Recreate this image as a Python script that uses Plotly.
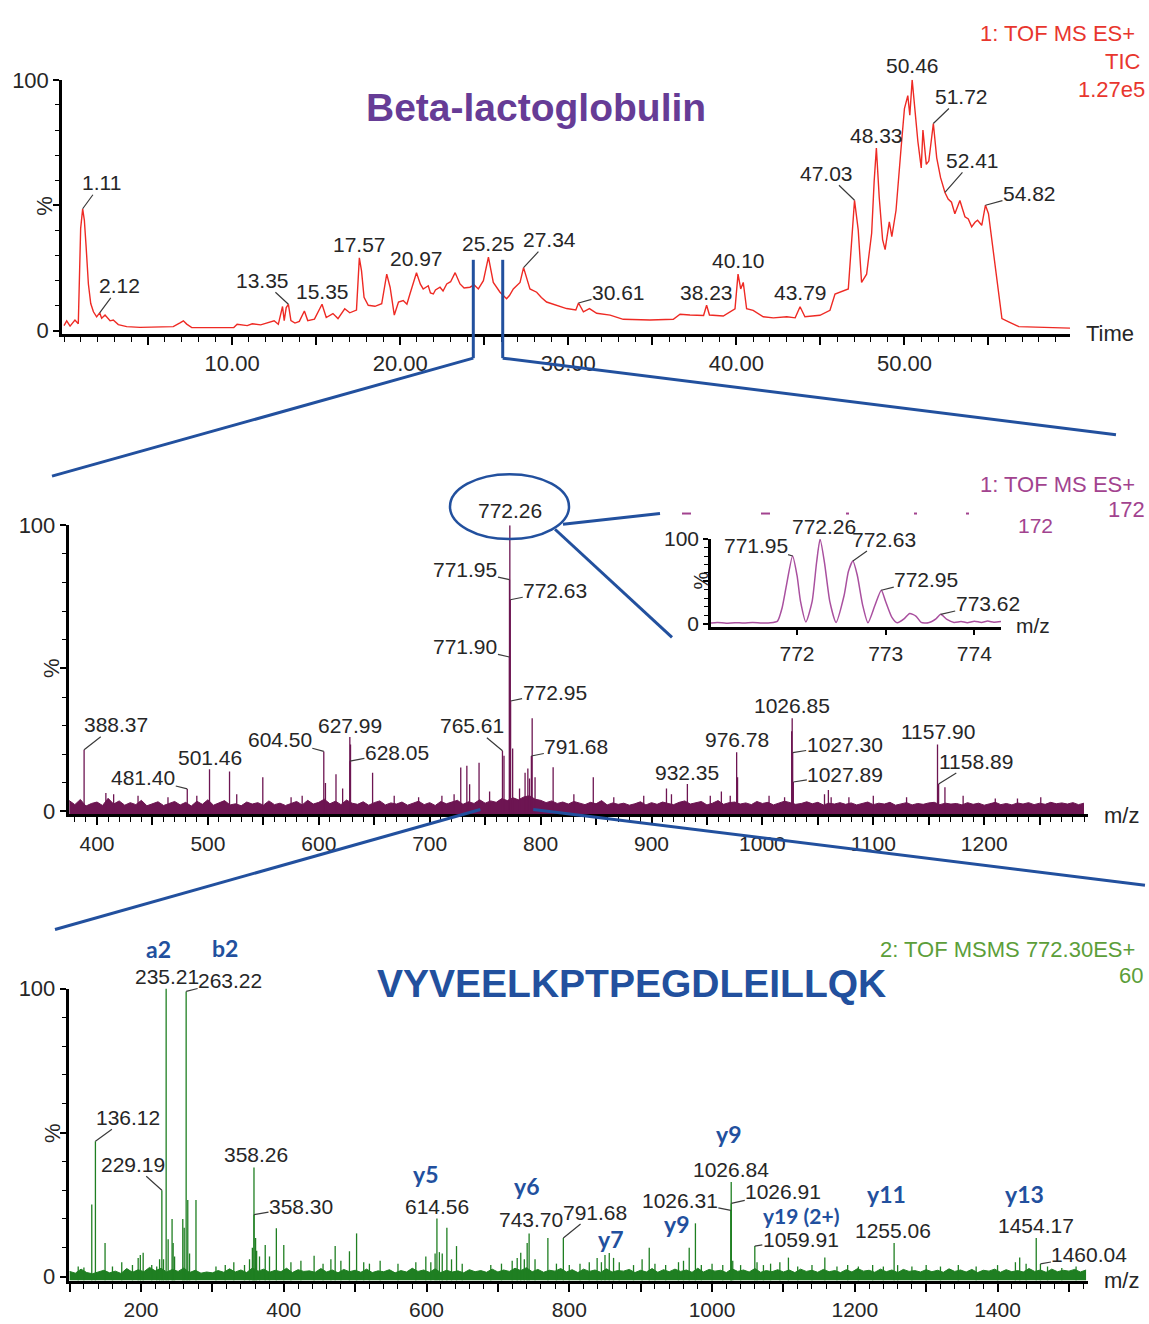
import plotly.graph_objects as go

W, H = 1149, 1324

# ---------------- total ion chromatogram (TIC) ----------------
tic_time = [
    0.0, 0.16, 0.36, 0.65, 0.85, 0.99, 1.11, 1.21, 1.31, 1.45,
    1.59, 1.75, 1.94, 2.12, 2.24, 2.44, 2.74, 2.93, 3.23, 3.73,
    4.52, 5.71, 6.5, 6.9, 7.1, 7.3, 7.6, 10.1, 10.3, 10.9,
    11.2, 11.7, 12.2, 12.5, 12.75, 13.0, 13.1, 13.22, 13.35, 13.5,
    13.74, 14.0, 14.3, 14.5, 14.9, 15.35, 15.6, 16.0, 16.3, 16.7,
    17.0, 17.4, 17.57, 17.7, 17.85, 18.1, 18.5, 18.9, 19.2, 19.4,
    19.65, 19.9, 20.18, 20.4, 20.58, 20.97, 21.2, 21.37, 21.67, 21.8,
    21.97, 22.1, 22.37, 22.55, 22.77, 23.0, 23.27, 23.56, 23.8, 24.15,
    24.4, 24.65, 24.95, 25.25, 25.54, 25.94, 26.33, 26.5, 26.73, 26.9,
    27.13, 27.34, 27.72, 28.12, 28.4, 28.71, 29.0, 29.31, 29.6, 29.9,
    30.45, 30.61, 30.9, 31.26, 31.69, 32.49, 33.27, 34.86, 36.25, 36.65,
    37.24, 37.84, 38.05, 38.23, 38.4, 39.22, 39.92, 40.10, 40.26, 40.41,
    40.61, 41.0, 41.6, 42.2, 43.0, 43.5, 43.79, 44.08, 44.97, 45.57,
    45.87, 46.66, 46.86, 47.03, 47.25, 47.45, 47.75, 48.05, 48.2, 48.33,
    48.5, 48.7, 48.85, 49.1, 49.25, 49.5, 49.8, 50.0, 50.2, 50.32,
    50.46, 50.62, 50.8, 51.0, 51.1, 51.3, 51.45, 51.72, 51.92, 52.15,
    52.41, 52.6, 52.8, 53.0, 53.15, 53.3, 53.45, 53.6, 53.8, 54.0,
    54.2, 54.35, 54.6, 54.82, 55.0, 55.2, 55.5, 55.8, 56.2, 56.8,
    59.85,
]
tic_pct = [
    2.0, 3.9, 1.8, 4.2, 2.7, 40.8, 48.6, 44.0, 34.0, 18.6,
    10.8, 7.5, 5.5, 7.1, 4.9, 6.2, 3.9, 4.2, 2.4, 1.6,
    1.3, 1.3, 1.6, 3.1, 3.9, 2.6, 1.2, 1.2, 2.5, 2.0,
    2.7, 2.3, 3.5, 3.9, 2.5, 9.6, 4.0, 9.2, 10.5, 4.0,
    3.0, 3.7, 7.8, 4.0, 4.6, 10.5, 5.2, 6.8, 4.8, 8.7,
    7.1, 8.2, 29.0, 23.8, 13.3, 10.1, 9.7, 10.7, 22.5, 17.3,
    6.2, 11.4, 12.0, 10.5, 14.6, 23.1, 18.5, 16.6, 17.9, 15.0,
    14.6, 16.2, 17.3, 15.8, 18.6, 19.5, 23.1, 18.6, 17.0, 17.3,
    18.2, 16.6, 19.9, 29.3, 19.2, 15.3, 12.7, 14.0, 16.6, 17.8,
    19.2, 25.1, 16.6, 15.3, 13.2, 11.4, 10.8, 10.1, 9.6, 8.8,
    8.2, 11.0, 7.5, 8.8, 6.9, 6.2, 4.5, 4.2, 4.5, 6.5,
    6.2, 6.2, 6.0, 10.1, 6.2, 5.8, 8.7, 22.5, 16.6, 19.2,
    8.7, 8.1, 5.5, 5.1, 5.5, 5.1, 9.5, 5.5, 6.1, 8.1,
    14.6, 16.6, 36.3, 52.0, 40.2, 19.2, 22.5, 38.8, 59.7, 72.8,
    53.2, 36.3, 32.3, 43.4, 37.5, 48.0, 72.8, 88.5, 93.7, 85.9,
    100.0, 87.2, 75.4, 64.9, 80.0, 66.3, 67.6, 82.6, 68.9, 61.0,
    55.1, 52.5, 51.2, 46.6, 49.0, 51.9, 48.6, 45.4, 44.5, 41.4,
    43.2, 44.0, 42.0, 50.0, 46.6, 36.3, 21.9, 4.8, 3.5, 1.6,
    1.0,
]
tic_labelled = [1.11, 2.12, 13.35, 15.35, 17.57, 20.97, 25.25, 27.34, 30.61,
                38.23, 40.10, 43.79, 47.03, 48.33, 50.46, 51.72, 52.41, 54.82]
tic_window = [24.35, 26.1]          # retention-time window of the survey scan

# ---------------- MS survey scan ----------------
ms_mz = [
    388.37, 408, 415, 437, 464, 481.40, 490, 501.46, 519.5, 526,
    549.5, 575, 585, 604.50, 606, 615.5, 621.5, 627.99, 628.05, 628.6,
    648.5, 668, 690, 711, 722, 728, 733.5, 736, 744.5, 754,
    765.61, 767, 771.90, 771.95, 772.26, 772.63, 772.95, 774.8, 781, 786,
    788.5, 790, 791.68, 792.4, 795, 811.3, 830, 847.5, 866, 893,
    913.5, 918, 932.35, 953, 963, 971, 976.78, 977.6, 1006, 1020,
    1026.40, 1026.85, 1027.30, 1027.89, 1056, 1059.5, 1062, 1078, 1100, 1130,
    1157.90, 1158.89, 1164.6, 1181, 1210, 1230, 1251,
]
ms_pct = [
    21.6, 6.5, 6.0, 5.5, 5.0, 7.9, 5.5, 14.8, 14.0, 6.0,
    12.0, 5.0, 5.5, 21.0, 10.0, 13.0, 8.0, 26.0, 17.6, 23.4,
    13.5, 5.5, 5.0, 5.5, 6.0, 15.4, 16.0, 9.5, 17.0, 7.0,
    21.2, 19.5, 54.0, 81.0, 100.0, 74.0, 38.6, 22.0, 8.0, 13.5,
    15.0, 11.5, 19.4, 32.6, 12.0, 15.5, 6.0, 12.0, 5.0, 5.5,
    8.0, 6.0, 9.6, 5.5, 7.0, 5.5, 20.7, 12.0, 5.5, 5.0,
    28.0, 32.6, 20.6, 10.3, 6.0, 7.5, 5.0, 5.0, 5.5, 5.0,
    23.4, 9.6, 8.5, 5.5, 4.5, 4.5, 5.0,
]
ms_noise_mz = list(range(375, 1291, 5))
ms_noise_pct = [
    3.8, 2.4, 4.2, 1.9, 2.8, 3.3, 2.1, 4.6, 2.6, 3.7, 2.2, 3.1, 2.4, 3.9, 2.0, 2.6, 3.4, 2.1, 2.9, 3.5,
    2.3, 3.2, 1.9, 3.6, 2.5, 4.1, 2.2, 3.0, 3.8, 2.3, 2.7, 2.0, 3.3, 2.6, 3.1, 2.2, 3.7, 2.4, 2.9, 2.1,
    2.8, 3.5, 2.3, 3.9, 2.6, 3.2, 4.3, 2.7, 3.6, 2.4, 4.0, 2.9, 2.5, 3.4, 2.2, 3.1, 3.7, 2.3, 3.0, 2.6,
    3.3, 2.2, 2.9, 3.6, 2.4, 3.1, 2.1, 3.5, 2.7, 3.2, 3.9, 2.5, 3.4, 2.8, 4.1, 2.9, 3.7, 3.2, 4.5, 3.8,
    4.8, 4.1, 5.1, 5.5, 4.3, 3.9, 3.1, 3.7, 2.8, 3.3, 2.6, 3.5, 2.9, 2.4, 3.2, 2.7, 3.8, 2.3, 3.0, 2.5,
    2.9, 2.2, 2.7, 3.4, 2.3, 3.1, 2.5, 3.3, 2.8, 2.4, 3.2, 3.7, 2.6, 3.0, 3.5, 2.3, 2.9, 3.8, 2.5, 3.1,
    3.3, 2.6, 3.0, 2.4, 3.5, 2.8, 3.2, 2.3, 2.9, 3.6, 3.1, 2.5, 2.8, 3.4, 2.7, 3.2, 2.3, 2.9, 2.6, 3.1,
    2.5, 3.0, 2.3, 2.8, 3.3, 2.4, 2.9, 2.6, 3.2, 2.2, 2.7, 3.1, 2.3, 2.8, 2.5, 3.0, 3.2, 2.4, 2.9, 2.6,
    2.8, 2.3, 3.1, 2.5, 2.9, 2.2, 2.7, 3.2, 2.4, 2.8, 2.3, 3.0, 2.6, 3.1, 2.4, 2.9, 2.5, 3.2, 2.7, 3.0,
    2.6, 3.1, 2.4, 2.9,
]
ms_labelled = [388.37, 481.40, 501.46, 604.50, 627.99, 628.05, 765.61, 771.90, 771.95,
               772.26, 772.63, 772.95, 791.68, 932.35, 976.78, 1026.85, 1027.30,
               1027.89, 1157.90, 1158.89]
ms_window = [745.7, 793.4]          # precursor region taken for MS/MS

# ---------------- isotope envelope of the 772 ion ----------------
iso_mz = [
    771.03, 771.1, 771.2, 771.3, 771.4, 771.5, 771.6, 771.7, 771.78, 771.83,
    771.88, 771.95, 772.0, 772.04, 772.1, 772.17, 772.22, 772.26, 772.31, 772.37,
    772.44, 772.53, 772.58, 772.63, 772.68, 772.74, 772.8, 772.88, 772.95, 773.0,
    773.07, 773.13, 773.21, 773.27, 773.34, 773.4, 773.48, 773.57, 773.62, 773.69,
    773.77, 773.85, 773.92, 774.0, 774.08, 774.15, 774.22, 774.3,
]
iso_pct = [
    0.8, 1.5, 0.6, 1.2, 0.7, 1.4, 0.8, 1.0, 3.0, 18.0,
    45.0, 80.0, 57.0, 26.0, 2.0, 26.0, 72.0, 100.0, 72.0, 26.0,
    1.5, 33.0, 62.0, 74.0, 57.0, 22.0, 1.0, 22.0, 39.5, 26.0,
    7.5, 1.0, 6.0, 12.0, 9.0, 1.5, 1.0, 6.0, 11.0, 5.0,
    1.5, 2.5, 1.2, 2.8, 1.5, 3.0, 1.8, 2.5,
]
iso_labelled = [771.95, 772.26, 772.63, 772.95, 773.62]

# ---------------- MS/MS of 772.30 ----------------
msms_mz = [
    112, 120, 131, 136.12, 149.6, 160, 173, 188, 196, 199,
    203, 215, 222, 226, 229.19, 231.5, 235.21, 238, 243.5, 245,
    247, 258.5, 260.5, 263.22, 265.5, 268, 277, 305, 318, 330,
    345, 352, 356, 358.26, 358.30, 360.5, 362, 366, 374, 380,
    389.6, 400, 410, 424, 442.5, 455, 466, 472, 480, 492,
    502, 512, 520, 535, 560, 585, 599, 606, 612, 614.56,
    618, 622, 628.5, 635, 642, 650, 690, 705, 720, 727,
    732, 737, 741, 743.70, 752, 770, 782, 791.68, 800, 815,
    828, 839, 845, 850, 856, 862, 870, 890, 902, 912,
    920, 935, 953, 960, 968, 976.7, 985, 1000, 1015, 1026.31,
    1026.84, 1026.91, 1029, 1040, 1059.91, 1063, 1072, 1082, 1095, 1107,
    1120, 1140, 1158, 1175, 1190, 1205, 1225, 1240, 1255.06, 1260,
    1280, 1300, 1320, 1345, 1370, 1400, 1425, 1431, 1440, 1454.17,
    1460.04, 1470, 1490, 1510,
]
msms_pct = [
    3.5, 3.2, 25.0, 47.0, 11.7, 3.5, 5.0, 4.0, 6.5, 7.5,
    8.3, 4.0, 3.5, 6.0, 30.0, 6.0, 100.0, 13.0, 20.0, 11.7,
    7.0, 20.0, 17.0, 99.0, 26.6, 8.0, 26.6, 3.5, 4.0, 5.0,
    4.0, 6.0, 10.0, 37.9, 21.5, 13.4, 9.0, 7.0, 11.0, 7.0,
    16.8, 11.0, 5.0, 5.5, 7.2, 4.5, 6.0, 10.6, 5.5, 8.8,
    15.0, 5.0, 4.5, 5.5, 4.5, 5.0, 7.0, 5.0, 8.0, 20.2,
    8.5, 8.0, 17.0, 6.0, 10.6, 4.5, 4.0, 4.5, 5.5, 6.5,
    8.3, 6.0, 11.7, 15.0, 6.0, 13.4, 4.5, 13.4, 4.0, 4.5,
    5.0, 6.5, 5.0, 7.5, 8.2, 6.5, 5.0, 4.0, 6.0, 10.0,
    4.5, 4.0, 5.0, 5.5, 10.0, 18.5, 4.0, 4.5, 4.0, 23.0,
    32.8, 25.4, 5.5, 4.0, 10.6, 5.0, 4.0, 4.5, 5.0, 6.6,
    3.5, 4.0, 6.6, 3.5, 4.0, 3.5, 4.0, 3.5, 11.7, 4.0,
    3.5, 4.0, 3.5, 4.0, 3.5, 4.0, 5.0, 6.6, 4.5, 13.4,
    4.4, 3.5, 3.0, 3.5,
]
msms_noise_mz = list(range(100, 1525, 8))
msms_noise_pct = [
    1.8, 1.2, 2.6, 1.4, 1.0, 1.6, 2.2, 1.3, 1.9, 1.1, 2.8, 1.5, 2.4, 1.7, 3.2, 2.0, 2.9, 1.6, 2.5, 1.8, 3.0, 1.4, 2.2, 1.2, 1.6,
    1.3, 2.1, 1.5, 2.7, 1.6, 2.3, 1.4, 3.0, 1.9, 2.6, 1.5, 2.2, 1.7, 2.9, 1.4, 2.4, 1.8, 2.0, 1.5, 2.8, 1.6, 2.3, 1.3, 2.5, 1.7,
    2.2, 1.5, 2.6, 1.4, 2.0, 1.7, 2.4, 1.3, 2.1, 1.6, 2.9, 1.8, 2.3, 1.5, 2.7, 1.4, 2.2, 1.6, 2.0, 1.3, 2.4, 1.7, 2.1, 1.5, 2.6,
    1.6, 2.3, 1.8, 2.9, 2.1, 3.1, 1.7, 2.5, 1.5, 2.2, 1.9, 2.8, 1.6, 2.4, 1.4, 2.6, 1.8, 2.3, 1.5, 2.7, 1.6, 2.1, 1.9, 2.5, 1.4,
    2.2, 1.6, 2.8, 1.5, 2.4, 1.7, 2.6, 1.8, 2.3, 1.5, 2.9, 1.6, 2.5, 1.9, 2.2, 1.4, 2.7, 1.8, 2.3, 1.6, 2.8, 1.5, 2.1, 1.7, 2.4,
    1.6, 2.3, 1.4, 2.6, 1.8, 2.2, 1.5, 2.5, 1.7, 2.1, 1.4, 2.4, 1.6, 2.8, 1.9, 2.2, 1.5, 2.6, 1.7, 2.3, 1.4, 2.5, 1.8, 2.1, 1.6,
    2.4, 1.7, 2.2, 1.5, 2.7, 1.8, 2.3, 1.6, 2.5, 1.4, 2.2, 1.9, 2.6, 1.5, 2.4, 1.7, 2.1, 1.6, 2.8, 1.8, 2.3, 1.5, 2.6, 1.7, 2.2,
    1.9, 2.5, 1.6, 2.3,
]
msms_labelled = [136.12, 229.19, 235.21, 263.22, 358.26, 358.30, 614.56, 743.70,
                 791.68, 1026.31, 1026.84, 1026.91, 1059.91, 1255.06, 1454.17, 1460.04]
frag_names = ["a2", "b2", "y5", "y6", "y7", "y9", "y9", "y19 (2+)", "y11", "y13"]
frag_peaks = [235.21, 263.22, 614.56, 743.70, 856, 976.7, 1026.84, 1059.91, 1255.06, 1454.17]

# ---------------- styling ----------------
NUM_FONT = "Liberation Sans, Arial, sans-serif"
TXT = "#262626"
RED, RED_TXT = "#ee2a24", "#e8362e"
PURPLE, PURPLE_TXT, ISO = "#6d1552", "#a2438f", "#a9509f"
GREEN, GREEN_TXT = "#1f7f22", "#5c9e3a"
BLUE = "#22509e"
TITLE_PURPLE = "#663c96"


def xdom(l, r):
    return [l / W, r / W]


def ydom(top, bottom):
    return [1 - bottom / H, 1 - top / H]


def pp(x, y):
    return x / W, 1 - y / H


# axis frames: (x domain px, x range, y domain px, y range)
F1 = dict(xd=(62, 1070), xr=(-0.12, 59.85), yd=(69, 327), yr=(-1.18, 100))
F2 = dict(xd=(68.5, 1088), xr=(374.3, 1293.6), yd=(522, 816), yr=(-1.03, 100))
F3 = dict(xd=(68.5, 1088), xr=(98.4, 1526.7), yd=(993, 1290), yr=(-1.37, 100))
F4 = dict(xd=(711, 1001), xr=(771.03, 774.3), yd=(536, 625), yr=(-3.5, 100))


def data_to_paper_x(f, v):
    l, r = f["xd"]
    a, b = f["xr"]
    return (l + (v - a) / (b - a) * (r - l)) / W


def sticks(xs, ys, floor):
    X, Y = [], []
    for x, y in zip(xs, ys):
        X += [x, x, None]
        Y += [floor, y, None]
    return X, Y


fig = go.Figure()

# chromatogram
fig.add_trace(go.Scatter(x=tic_time, y=tic_pct, mode="lines",
                         line=dict(color=RED, width=1.4), xaxis="x", yaxis="y",
                         hoverinfo="skip"))

# survey scan: noise band + centroid sticks
floor2 = F2["yr"][0]
fig.add_trace(go.Scatter(x=[ms_noise_mz[0], ms_noise_mz[-1]], y=[floor2, floor2],
                         mode="lines", line=dict(width=0, color=PURPLE),
                         xaxis="x2", yaxis="y2", hoverinfo="skip"))
fig.add_trace(go.Scatter(x=ms_noise_mz, y=ms_noise_pct, mode="lines", fill="tonexty",
                         fillcolor=PURPLE, line=dict(color=PURPLE, width=1),
                         xaxis="x2", yaxis="y2", hoverinfo="skip"))
sx, sy = sticks(ms_mz, ms_pct, floor2)
fig.add_trace(go.Scatter(x=sx, y=sy, mode="lines", line=dict(color=PURPLE, width=1.3),
                         xaxis="x2", yaxis="y2", hoverinfo="skip"))

# isotope envelope inset
fig.add_trace(go.Scatter(x=iso_mz, y=iso_pct, mode="lines",
                         line=dict(color=ISO, width=1.5, shape="spline", smoothing=0.6),
                         xaxis="x4", yaxis="y4", hoverinfo="skip"))

# MS/MS: noise band + sticks
floor3 = F3["yr"][0]
fig.add_trace(go.Scatter(x=[msms_noise_mz[0], msms_noise_mz[-1]], y=[floor3, floor3],
                         mode="lines", line=dict(width=0, color=GREEN),
                         xaxis="x3", yaxis="y3", hoverinfo="skip"))
fig.add_trace(go.Scatter(x=msms_noise_mz, y=msms_noise_pct, mode="lines", fill="tonexty",
                         fillcolor=GREEN, line=dict(color=GREEN, width=1),
                         xaxis="x3", yaxis="y3", hoverinfo="skip"))
sx, sy = sticks(msms_mz, msms_pct, floor3)
fig.add_trace(go.Scatter(x=sx, y=sy, mode="lines", line=dict(color=GREEN, width=1.3),
                         xaxis="x3", yaxis="y3", hoverinfo="skip"))


def xaxis(f, anchor, vals, texts, minor_dtick, size, linew=3, ticklen=8):
    d = dict(domain=xdom(*f["xd"]), range=list(f["xr"]), anchor=anchor,
             showline=True, linecolor="black", linewidth=linew, mirror=False,
             ticks="outside", ticklen=ticklen, tickwidth=1.5, tickcolor="black",
             tickmode="array", tickvals=vals, ticktext=texts,
             tickfont=dict(family=NUM_FONT, size=size, color=TXT),
             showgrid=False, zeroline=False, fixedrange=True)
    if minor_dtick:
        d["minor"] = dict(tickmode="linear", tick0=0, dtick=minor_dtick, ticks="outside",
                          ticklen=5, tickwidth=1.2, tickcolor="black", showgrid=False)
    return d


def yaxis(f, anchor, size, ticklen=6):
    return dict(domain=ydom(*f["yd"]), range=list(f["yr"]), anchor=anchor,
                showline=True, linecolor="black", linewidth=2.5,
                ticks="outside", ticklen=ticklen, tickwidth=1.5, tickcolor="black",
                tickmode="array", tickvals=[0, 50, 100], ticktext=["0", "", "100"],
                tickfont=dict(family=NUM_FONT, size=size, color=TXT),
                minor=dict(tickmode="linear", tick0=0, dtick=10, ticks="outside",
                           ticklen=4, tickwidth=1.2, tickcolor="black", showgrid=False),
                showgrid=False, zeroline=False, fixedrange=True)


t_vals = list(range(5, 60, 5))
t_text = [f"{v:.2f}" if v % 10 == 0 else "" for v in t_vals]
m2_vals = list(range(400, 1300, 50))
m2_text = [str(v) if v % 100 == 0 else "" for v in m2_vals]
m3_vals = list(range(100, 1600, 100))
m3_text = [str(v) if v % 200 == 0 else "" for v in m3_vals]

# ---------------- peak labels ----------------
tic_off = {1.11: (19, -26, 1), 2.12: (20, -27, 1), 13.35: (-26, -24, 1), 15.35: (0, -13, 0),
           17.57: (0, -13, 0), 20.97: (0, -14, 0), 25.25: (0, -14, 0), 27.34: (26, -28, 1),
           30.61: (40, -11, 1), 38.23: (0, -13, 0), 40.10: (0, -14, 0), 43.79: (0, -14, 0),
           47.03: (-28, -27, 1), 48.33: (0, -13, 0), 50.46: (0, -14, 0), 51.72: (28, -27, 1),
           52.41: (28, -32, 1), 54.82: (44, -12, 1)}
ms_off = {388.37: (32, -25, 1), 481.40: (-44, -11, 1), 501.46: (0, -12, 0),
          604.50: (-44, -12, 1), 627.99: (0, -12, 0), 628.05: (47, -9, 1),
          765.61: (-30, -25, 1), 771.90: (-44, -10, 1), 771.95: (-44, -10, 1),
          772.26: (0, -15, 0), 772.63: (45, -9, 1), 772.95: (44, -9, 1),
          791.68: (45, -9, 1), 932.35: (0, -12, 0), 976.78: (0, -13, 0),
          1026.85: (0, -13, 0), 1027.30: (52, -8, 1), 1027.89: (52, -8, 1),
          1157.90: (0, -13, 0), 1158.89: (37, -23, 1)}
iso_off = {771.95: (-37, -11, 1), 772.26: (4, -13, 0), 772.63: (31, -22, 1),
           772.95: (45, -11, 1), 773.62: (47, -11, 1)}
msms_off = {136.12: (33, -24, 1), 229.19: (-29, -26, 1), 235.21: (1, -12, 0),
            263.22: (44, -11, 1), 358.26: (2, -13, 0), 358.30: (47, -8, 1),
            614.56: (0, -12, 0), 743.70: (2, -14, 0), 791.68: (32, -26, 1),
            1026.31: (-51, -10, 1), 1026.84: (0, -13, 0), 1026.91: (52, -12, 1),
            1059.91: (46, -7, 1), 1255.06: (-1, -12, 0), 1454.17: (0, -13, 0),
            1460.04: (49, -9, 1)}
frag_off = [(-8, -40), (39, -43), (-11, -44), (-3, -47), (1, -14), (-19, 1),
            (-3, -48), (46, -31), (-8, -49), (-12, -44)]
frag_size = [23, 23, 23, 23, 23, 23, 23, 21, 23, 23]

annotations = []


def peak_labels(xs, ys, labelled, offsets, suffix, size=21):
    lookup = dict(zip(xs, ys))
    for v in labelled:
        dx, dy, leader = offsets[v]
        a = dict(x=v, y=lookup[v], xref="x" + suffix, yref="y" + suffix,
                 text=f"{v:.2f}", font=dict(family=NUM_FONT, size=size, color=TXT),
                 borderpad=0)
        if leader:
            a.update(showarrow=True, ax=dx, ay=dy, arrowhead=0, arrowwidth=1.2,
                     arrowcolor="#3a3a3a", standoff=0)
        else:
            a.update(showarrow=False, xanchor="center", yanchor="middle",
                     xshift=dx, yshift=-dy)
        annotations.append(a)


peak_labels(tic_time, tic_pct, tic_labelled, tic_off, "")
peak_labels(ms_mz, ms_pct, ms_labelled, ms_off, "2")
peak_labels(iso_mz, iso_pct, iso_labelled, iso_off, "4")
peak_labels(msms_mz, msms_pct, msms_labelled, msms_off, "3")

msms_lookup = dict(zip(msms_mz, msms_pct))
for name, mz, (dx, dy), fs in zip(frag_names, frag_peaks, frag_off, frag_size):
    annotations.append(dict(x=mz, y=msms_lookup[mz], xref="x3", yref="y3", text=f"<b>{name}</b>",
                            showarrow=False, xanchor="center", yanchor="middle",
                            xshift=dx, yshift=-dy, borderpad=0,
                            font=dict(family="Lato, Open Sans, sans-serif", size=fs, color=BLUE)))


def ptext(x, y, text, size=22, color=TXT, xanchor="center", angle=0, family=NUM_FONT):
    px, py = pp(x, y)
    annotations.append(dict(x=px, y=py, xref="paper", yref="paper", text=text,
                            showarrow=False, xanchor=xanchor, yanchor="middle",
                            textangle=angle, font=dict(family=family, size=size, color=color)))


# titles
ptext(536, 97, "<b>Beta-lactoglobulin</b>", size=39, color=TITLE_PURPLE)
ptext(631, 988, "<b>VYVEELKPTPEGDLEILLQK</b>", size=39, color=BLUE)

# instrument headers
ptext(1137, 22, "1: TOF MS ES+", color=RED_TXT, xanchor="right")
ptext(1143, 50, "TIC", color=RED_TXT, xanchor="right")
ptext(1147, 79, "1.27e5", color=RED_TXT, xanchor="right")
ptext(1137, 480, "1: TOF MS ES+", color=PURPLE_TXT, xanchor="right")
ptext(1106, 506, "172", color=PURPLE_TXT, xanchor="left")
ptext(1035, 522, "172", size=21, color=PURPLE_TXT)
ptext(1137, 953, "2: TOF MSMS 772.30ES+", color=GREEN_TXT, xanchor="right")
ptext(1117, 980, "60", color=GREEN_TXT, xanchor="left")

# axis captions
ptext(1084, 327, "Time", xanchor="left")
ptext(1102, 817, "m/z", xanchor="left")
ptext(1102, 1290, "m/z", xanchor="left")
ptext(1014, 624, "m/z", size=21, xanchor="left")
ptext(45, 197, "%", angle=-90)
ptext(52, 667, "%", angle=-90)
ptext(52, 1140, "%", angle=-90)
ptext(701, 578, "%", size=20, angle=-90)

# ---------------- connector graphics ----------------
shapes = []
LINE = dict(color=BLUE, width=3)


def seg(x0, y0, x1, y1, line=LINE):
    shapes.append(dict(type="line", xref="paper", yref="paper",
                       x0=x0, y0=y0, x1=x1, y1=y1, line=line, layer="above"))


# time window marked on the chromatogram, fanning out to the survey scan
for t in tic_window:
    xp = data_to_paper_x(F1, t)
    seg(xp, pp(0, 352)[1], xp, pp(0, 252)[1])
xl = data_to_paper_x(F1, tic_window[0])
xr = data_to_paper_x(F1, tic_window[1])
seg(xl, pp(0, 352)[1], *pp(52, 472))
seg(xr, pp(0, 352)[1], *pp(1116, 430))

# precursor window on the survey scan, fanning out to the MS/MS spectrum
xl = data_to_paper_x(F2, ms_window[0])
xr = data_to_paper_x(F2, ms_window[1])
seg(xl, pp(0, 811)[1], *pp(55, 933))
seg(xr, pp(0, 811)[1], *pp(1145, 888))

# ring round the base peak label and leads to the inset
x0, y0 = pp(450, 536)
x1, y1 = pp(569, 470)
shapes.append(dict(type="circle", xref="paper", yref="paper", x0=x0, y0=y0, x1=x1, y1=y1,
                   line=dict(color=BLUE, width=2.5), layer="above"))
seg(*pp(563, 521), *pp(660, 510))
seg(*pp(555, 526), *pp(672, 636))

# faint header remnants above the inset
for a, b in [(682, 691), (761, 770), (846, 849), (914, 917), (966, 969)]:
    seg(*pp(a, 510), *pp(b, 510), line=dict(color=PURPLE_TXT, width=2))

fig.update_layout(
    width=W, height=H, margin=dict(l=0, r=0, t=0, b=0),
    paper_bgcolor="white", plot_bgcolor="rgba(0,0,0,0)", showlegend=False,
    xaxis=xaxis(F1, "y", t_vals, t_text, 1, 22),
    yaxis=yaxis(F1, "x", 22),
    xaxis2=xaxis(F2, "y2", m2_vals, m2_text, 10, 21),
    yaxis2=yaxis(F2, "x2", 22),
    xaxis3=xaxis(F3, "y3", m3_vals, m3_text, 20, 21),
    yaxis3=yaxis(F3, "x3", 22),
    xaxis4=xaxis(F4, "y4", [772, 773, 774], ["772", "773", "774"], None, 21, linew=2.5, ticklen=6),
    yaxis4=yaxis(F4, "x4", 21, ticklen=5),
    annotations=annotations,
    shapes=shapes,
)

fig.write_html("out.html")
